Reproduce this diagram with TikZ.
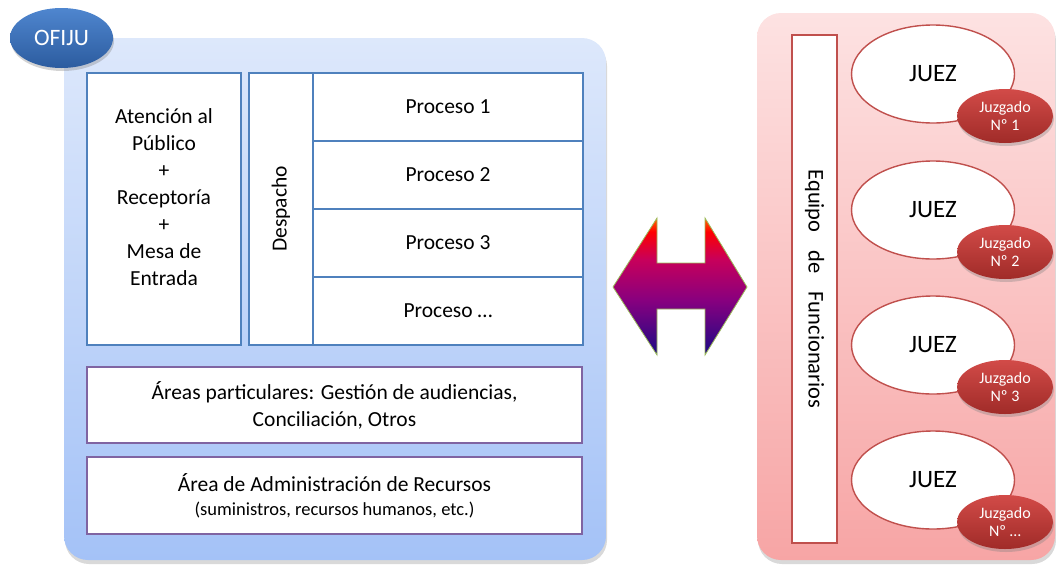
\documentclass[tikz,border=0pt]{standalone}
\usepackage{fontspec}
\setmainfont{Carlito}
\usetikzlibrary{shapes.geometric,shadows}

\definecolor{boxblue}{HTML}{4F81BD}
\definecolor{boxpurple}{HTML}{8064A2}
\definecolor{juezred}{HTML}{C0504D}
\definecolor{paneltop}{HTML}{DDE8FB}
\definecolor{panelbot}{HTML}{A4C2F7}
\definecolor{pinktop}{HTML}{FDE2E2}
\definecolor{pinkbot}{HTML}{F7A5A5}
\definecolor{juzgtop}{HTML}{D24B48}
\definecolor{juzgbot}{HTML}{A02B28}
\definecolor{ofitop}{HTML}{4F86CF}
\definecolor{ofibot}{HTML}{2C5C9F}
\definecolor{arrowblue}{HTML}{1B0A85}
\definecolor{arrowpurple}{HTML}{88007F}
\definecolor{arrowcrimson}{HTML}{C8005A}
\definecolor{arroworange}{HTML}{FF6A00}
\definecolor{arrowgreen}{HTML}{9BBB59}

\pgfdeclareverticalshading{arrowshade}{100bp}{color(0bp)=(arrowblue); color(25bp)=(arrowblue); color(45bp)=(arrowpurple); color(60bp)=(arrowcrimson); color(70bp)=(red); color(75bp)=(arroworange); color(100bp)=(arroworange)}

\begin{document}
\begin{tikzpicture}[x=1pt,y=-1pt,
    every node/.style={font=\fontsize{21.5}{27}\selectfont},
    panel/.style={rounded corners=24pt, drop shadow={shadow xshift=1pt,shadow yshift=-4pt,opacity=0.3}},
    bluebox/.style={draw=boxblue, line width=1.6pt, fill=white, align=center, inner sep=0pt},
    purplebox/.style={draw=boxpurple, line width=1.6pt, fill=white, align=center, inner sep=0pt},
    juez/.style={ellipse, draw=juezred, line width=1.4pt, fill=white, minimum width=163pt, minimum height=98pt, inner sep=0pt, font=\fontsize{25}{28}\selectfont},
    juzgado/.style={ellipse, top color=juzgtop, bottom color=juzgbot, text=white, minimum width=96pt, minimum height=54pt, inner sep=0pt, align=center,
        font=\fontsize{16}{18}\selectfont, drop shadow={shadow xshift=1pt,shadow yshift=-3pt,opacity=0.35}}]
  \useasboundingbox (0,0) rectangle (1056,565);

  % left panel
  \node[panel, top color=paneltop, bottom color=panelbot, minimum width=542pt, minimum height=522pt] (ofipanel) at (335,299) {};
  \node[ellipse, top color=ofitop, bottom color=ofibot, text=white, minimum width=103pt, minimum height=60pt, inner sep=0pt,
        font=\fontsize{23.5}{27}\selectfont, drop shadow={shadow xshift=1pt,shadow yshift=-3pt,opacity=0.35}] (ofiju) at (61.5,38) {OFIJU};

  \node[bluebox, minimum width=154pt, minimum height=272pt] (aten) at (164,209) {};
  \node[align=center] (atentxt) at (164,197) {Atención al\\Público\\+\\Receptoría\\+\\Mesa de\\Entrada};
  \node[bluebox, rotate=90, minimum width=272pt, minimum height=64pt] (despacho) at (281,209) {Despacho};
  \node[bluebox, minimum width=270pt, minimum height=68pt] (proc1) at (448,107) {Proceso 1};
  \node[bluebox, minimum width=270pt, minimum height=68pt] (proc2) at (448,175) {Proceso 2};
  \node[bluebox, minimum width=270pt, minimum height=68pt] (proc3) at (448,243) {Proceso 3};
  \node[bluebox, minimum width=270pt, minimum height=68pt] (proc4) at (448,311) {Proceso …};

  \node[purplebox, minimum width=495pt, minimum height=76pt] (areas) at (334.5,405) {Áreas particulares: Gestión de audiencias,\\Conciliación, Otros};
  \node[purplebox, minimum width=495pt, minimum height=77pt] (admin) at (334.5,495.5)
    {Área de Administración de Recursos\\[-3pt]{\fontsize{18.5}{21}\selectfont(suministros, recursos humanos, etc.)}};

  % double arrow
  \shade[shading=arrowshade, draw=arrowgreen, line width=0.8pt, line join=miter]
    (613,287) -- (657,218) -- (657,263) -- (705,263) -- (705,218) -- (747,287)
    -- (705,355) -- (705,309) -- (657,309) -- (657,355) -- cycle;

  % right panel
  \node[panel, top color=pinktop, bottom color=pinkbot, minimum width=298pt, minimum height=547pt] (jpanel) at (906,286.5) {};
  \node[draw=juezred, line width=1.6pt, fill=white, rotate=-90, minimum width=508pt, minimum height=45pt, inner sep=0pt] (equipo) at (814.5,289)
    {\fontsize{22.5}{27}\selectfont Equipo\hspace{0.8em}de\hspace{0.8em}Funcionarios};

  \foreach \n/\y/\num in {1/74/1, 2/210/2, 3/345/3, 4/480/…} {
    \node[juez] (juez\n) at (933,\y) {JUEZ};
    \node[juzgado] (juzgado\n) at (1005,\y+42) {Juzgado\\Nº \num};
  }
\end{tikzpicture}
\end{document}
